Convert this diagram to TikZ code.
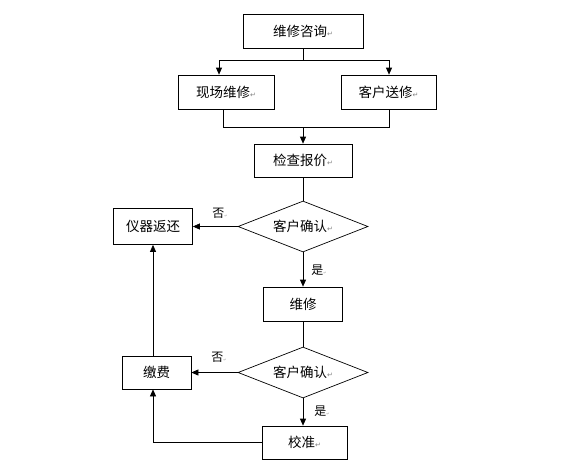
\documentclass[tikz,border=0pt]{standalone}
\usepackage{fontspec}
\setmainfont{Noto Sans CJK SC}
\newfontfamily\symfont{DejaVu Sans}
\usetikzlibrary{arrows.meta,positioning,shapes.geometric}
\newcommand{\pmark}{{\symfont\color{gray}\fontsize{7}{7}\selectfont ↵}}
\newcommand{\smallmark}{{\symfont\color{gray!70}\fontsize{4}{4}\selectfont ↵}}

\begin{document}
\begin{tikzpicture}[x=1pt, y=-1pt, line width=0.7pt, >={Triangle[length=7pt,width=6pt]},
  box/.style={draw, rectangle, inner sep=0pt, minimum height=34pt, font=\fontsize{13.5}{15}\selectfont},
  decide/.style={draw, diamond, aspect=2.5, inner sep=0pt, minimum width=130pt, minimum height=51pt, font=\fontsize{13.5}{15}\selectfont},
  lbl/.style={inner sep=0pt, font=\fontsize{12}{14}\selectfont}]
\useasboundingbox (0,0) rectangle (587,472);
% boxes
\node[box, minimum width=120pt] (ask) at (303,31) {维修咨询\pmark};
\node[box, minimum width=96pt] (site) at (226,92) {现场维修\pmark};
\node[box, minimum width=95pt] (send) at (388.5,92) {客户送修\pmark};
\node[box, minimum width=98pt, minimum height=33pt] (check) at (303,160.5) {检查报价\pmark};
\node[decide] (ok1) at (303,226.5) {客户确认\pmark};
\node[box, minimum width=79pt, minimum height=36pt] (back) at (153,226.5) {仪器返还};
\node[box, minimum width=79pt] (fix) at (303,304) {维修};
\node[decide] (ok2) at (303,372.5) {客户确认\pmark};
\node[box, minimum width=69pt, minimum height=33pt] (pay) at (156.5,372.5) {缴费};
\node[box, minimum width=85pt, minimum height=33pt] (cal) at (304.5,442.5) {校准\pmark};
% labels
\node[lbl] (no1) at (220,213) {否\smallmark};
\node[lbl] (yes1) at (319,270) {是\smallmark};
\node[lbl] (no2) at (219,357) {否\smallmark};
\node[lbl] (yes2) at (322,411) {是\smallmark};
% fork and join
\coordinate (fork) at (303,60);
\coordinate (forkL) at (219,60);
\coordinate (forkR) at (389,60);
\coordinate (joinL) at (223,127);
\coordinate (joinR) at (389,127);
\draw (ask) -- (fork);
\draw (forkL) -- (forkR);
\draw[->] (forkL) -- (forkL |- site.north);
\draw[->] (forkR) -- (forkR |- send.north);
\draw (site.south -| joinL) -- (joinL) -- (joinR) -- (send.south -| joinR);
\draw[->] (check.north |- joinL) -- (check.north);
% main flow
\draw (check) -- (ok1);
\draw[->] (ok1) -- (back);
\draw[->] (ok1) -- (fix);
\draw (fix) -- (ok2);
\draw[->] (ok2) -- (pay);
\draw[->] (ok2.south) -- (ok2.south |- cal.north);
\draw[->] (cal.west) -| (pay.south -| back.south);
\draw[->] (pay.north -| back.south) -- (back.south);
\end{tikzpicture}
\end{document}
